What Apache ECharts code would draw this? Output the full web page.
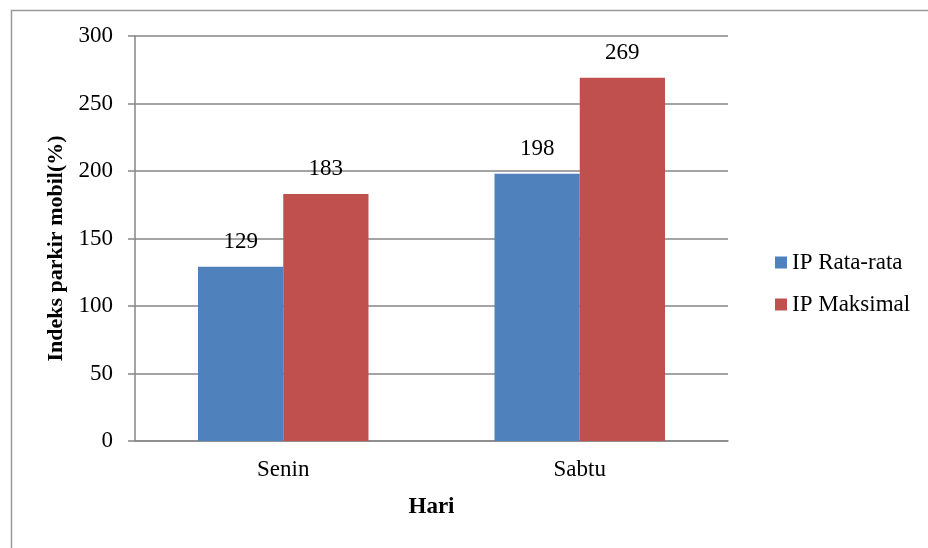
<!DOCTYPE html>
<html>
<head>
<meta charset="utf-8">
<script src="https://cdn.jsdelivr.net/npm/echarts@6/dist/echarts.min.js"></script>
<style>
  html, body { margin: 0; padding: 0; background: #fff; }
  #chart { width: 928px; height: 548px; }
</style>
</head>
<body>
<div id="chart"></div>
<script>
// Indeks parkir mobil per hari
const days = ['Senin', 'Sabtu']
const ipRataRata = [129, 198]
const ipMaksimal = [183, 269]
const yTicks = { min: 0, max: 300, interval: 50 }

const serif = '"Liberation Serif", "Times New Roman", serif'
const chart = echarts.init(document.getElementById('chart'))

const barLabel = { show: true, position: 'top', distance: 13, color: '#000', fontFamily: serif, fontSize: 23 }

chart.setOption({
  backgroundColor: '#fff',
  animation: false,
  textStyle: { fontFamily: serif, color: '#000' },
  graphic: [{
    type: 'rect', left: 9, top: 8,
    shape: { width: 940, height: 560 },
    style: { fill: 'none', stroke: '#9a9a9a', lineWidth: 1.5 },
  }],
  grid: { left: 135, right: 200, top: 36, bottom: 107 },
  legend: {
    orient: 'vertical', left: 770, top: 246,
    icon: 'rect',
    itemWidth: 12, itemHeight: 12, itemGap: 19,
    textStyle: { fontFamily: serif, fontSize: 23, color: '#000' },
    data: ['IP Rata-rata', 'IP Maksimal'],
  },
  xAxis: {
    type: 'category',
    data: days,
    name: 'Hari', nameLocation: 'middle', nameGap: 55,
    nameTextStyle: { fontFamily: serif, fontSize: 23, fontWeight: 'bold', color: '#000' },
    axisLine: { lineStyle: { color: '#868686', width: 1.5 } },
    axisTick: { show: false },
    axisLabel: { fontFamily: serif, fontSize: 23, color: '#000', margin: 17 },
  },
  yAxis: {
    type: 'value',
    min: yTicks.min, max: yTicks.max, interval: yTicks.interval,
    name: 'Indeks parkir mobil(%)', nameLocation: 'middle', nameGap: 68,
    nameTextStyle: { fontFamily: serif, fontSize: 22, fontWeight: 'bold', color: '#000', padding: [0, 20, 0, 0] },
    axisLine: { show: true, lineStyle: { color: '#868686', width: 1.5 } },
    axisTick: { show: true, inside: false, length: 7, lineStyle: { color: '#868686', width: 1.5 } },
    axisLabel: { fontFamily: serif, fontSize: 23, color: '#000', margin: 22 },
    splitLine: { lineStyle: { color: '#868686', width: 1.5 } },
  },
  series: [
    {
      name: 'IP Rata-rata', type: 'bar', data: ipRataRata,
      barGap: '0%', barCategoryGap: '42.5%',
      itemStyle: { color: '#4f81bd' }, label: barLabel,
    },
    {
      name: 'IP Maksimal', type: 'bar', data: ipMaksimal,
      itemStyle: { color: '#c0504d' }, label: barLabel,
    },
  ],
})
</script>
</body>
</html>
